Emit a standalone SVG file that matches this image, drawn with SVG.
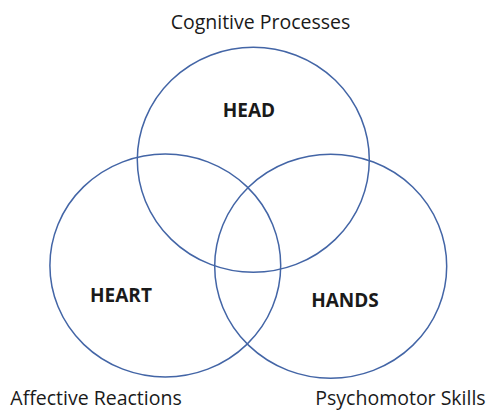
<svg xmlns="http://www.w3.org/2000/svg" width="486" height="410" viewBox="0 0 486 410">
  <style>
    .ring { fill: none; stroke: #4365a6; stroke-width: 1.5; }
    .name { font-family: "Open Sans", "Noto Sans", sans-serif; font-weight: bold; font-size: 19px; fill: #1a1a1a; text-anchor: middle; }
    .caption { font-family: "Open Sans", "Noto Sans", sans-serif; font-size: 19.5px; fill: #1a1a1a; text-anchor: middle; }
  </style>
  <rect width="486" height="410" fill="#ffffff"/>
  <g id="head">
    <ellipse class="ring" cx="253.3" cy="159.8" rx="116" ry="112.5"/>
    <text class="name" x="249" y="116.5">HEAD</text>
  </g>
  <g id="heart">
    <ellipse class="ring" cx="165.3" cy="265.5" rx="115.4" ry="111.5"/>
    <text class="name" x="121" y="301.5">HEART</text>
  </g>
  <g id="hands">
    <ellipse class="ring" cx="330.7" cy="266.2" rx="116" ry="112"/>
    <text class="name" x="345" y="306.5">HANDS</text>
  </g>
  <g id="captions">
    <text class="caption" x="260.5" y="29">Cognitive Processes</text>
    <text class="caption" x="96" y="405">Affective Reactions</text>
    <text class="caption" x="400.5" y="405">Psychomotor Skills</text>
  </g>
</svg>
